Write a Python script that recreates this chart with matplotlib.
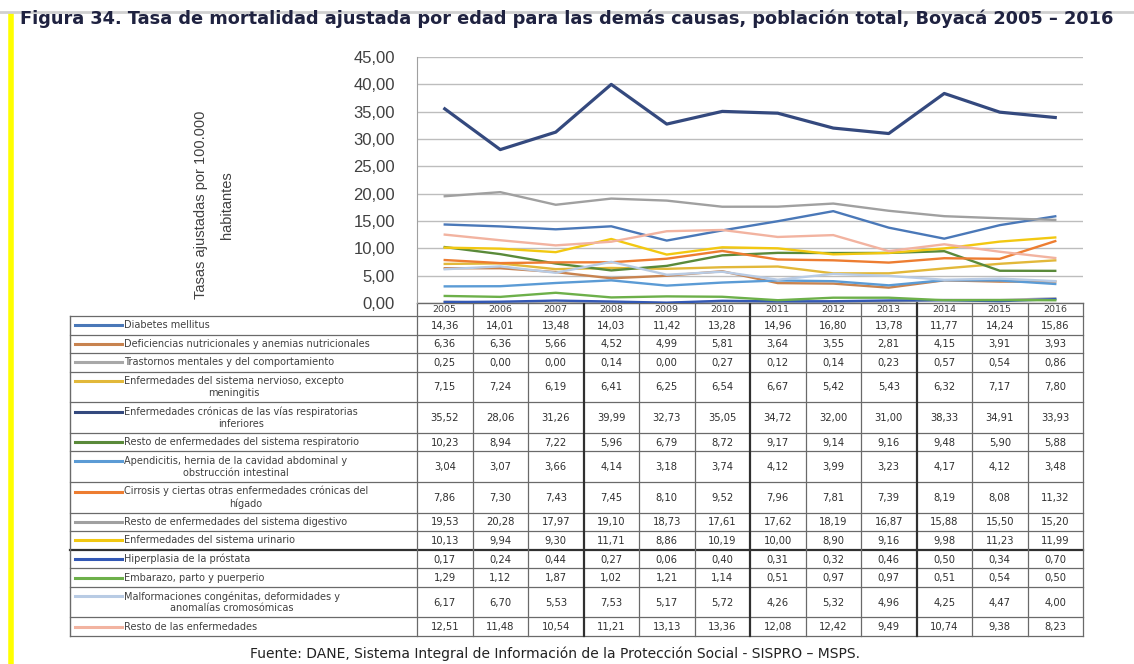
import matplotlib
matplotlib.use("Agg")
import matplotlib.pyplot as plt
from matplotlib.lines import Line2D
import numpy as np

# ---------------- data ----------------
years = [2005, 2006, 2007, 2008, 2009, 2010, 2011, 2012, 2013, 2014, 2015, 2016]

labels = [
    "Diabetes mellitus",
    "Deficiencias nutricionales y anemias nutricionales",
    "Trastornos mentales y del comportamiento",
    "Enfermedades del sistema nervioso, excepto\nmeningitis",
    "Enfermedades crónicas de las vías respiratorias\ninferiores",
    "Resto de enfermedades del sistema respiratorio",
    "Apendicitis, hernia de la cavidad abdominal y\nobstrucción intestinal",
    "Cirrosis y ciertas otras enfermedades crónicas del\nhígado",
    "Resto de enfermedades del sistema digestivo",
    "Enfermedades del sistema urinario",
    "Hiperplasia de la próstata",
    "Embarazo, parto y puerperio",
    "Malformaciones congénitas, deformidades y\nanomalías cromosómicas",
    "Resto de las enfermedades",
]

diabetes = [14.36, 14.01, 13.48, 14.03, 11.42, 13.28, 14.96, 16.80, 13.78, 11.77, 14.24, 15.86]
deficiencias = [6.36, 6.36, 5.66, 4.52, 4.99, 5.81, 3.64, 3.55, 2.81, 4.15, 3.91, 3.93]
trastornos = [0.25, 0.00, 0.00, 0.14, 0.00, 0.27, 0.12, 0.14, 0.23, 0.57, 0.54, 0.86]
nervioso = [7.15, 7.24, 6.19, 6.41, 6.25, 6.54, 6.67, 5.42, 5.43, 6.32, 7.17, 7.80]
vias_resp = [35.52, 28.06, 31.26, 39.99, 32.73, 35.05, 34.72, 32.00, 31.00, 38.33, 34.91, 33.93]
resto_resp = [10.23, 8.94, 7.22, 5.96, 6.79, 8.72, 9.17, 9.14, 9.16, 9.48, 5.90, 5.88]
apendicitis = [3.04, 3.07, 3.66, 4.14, 3.18, 3.74, 4.12, 3.99, 3.23, 4.17, 4.12, 3.48]
cirrosis = [7.86, 7.30, 7.43, 7.45, 8.10, 9.52, 7.96, 7.81, 7.39, 8.19, 8.08, 11.32]
resto_digestivo = [19.53, 20.28, 17.97, 19.10, 18.73, 17.61, 17.62, 18.19, 16.87, 15.88, 15.50, 15.20]
urinario = [10.13, 9.94, 9.30, 11.71, 8.86, 10.19, 10.00, 8.90, 9.16, 9.98, 11.23, 11.99]
hiperplasia = [0.17, 0.24, 0.44, 0.27, 0.06, 0.40, 0.31, 0.32, 0.46, 0.50, 0.34, 0.70]
embarazo = [1.29, 1.12, 1.87, 1.02, 1.21, 1.14, 0.51, 0.97, 0.97, 0.51, 0.54, 0.50]
malformaciones = [6.17, 6.70, 5.53, 7.53, 5.17, 5.72, 4.26, 5.32, 4.96, 4.25, 4.47, 4.00]
resto_enf = [12.51, 11.48, 10.54, 11.21, 13.13, 13.36, 12.08, 12.42, 9.49, 10.74, 9.38, 8.23]

series = [diabetes, deficiencias, trastornos, nervioso, vias_resp, resto_resp, apendicitis,
          cirrosis, resto_digestivo, urinario, hiperplasia, embarazo, malformaciones, resto_enf]

colors = ["#4A78B8", "#C8834F", "#A8A8A8", "#E2B83A", "#34497E", "#5A8A3A", "#5B9BD5",
          "#ED7D31", "#A0A0A0", "#F2C811", "#3358B5", "#6DB04A", "#B8CBE4", "#F2B3A0"]

title = "Figura 34. Tasa de mortalidad ajustada por edad para las demás causas, población total, Boyacá 2005 – 2016"
source = "Fuente: DANE, Sistema Integral de Información de la Protección Social - SISPRO – MSPS."
ylabel = "Tasas ajustadas por 100.000\nhabitantes"

# ---------------- layout ----------------
W, H = 1134, 664
fig = plt.figure(figsize=(W / 100, H / 100), dpi=100)
fig.patch.set_facecolor("white")

PL, PR, PT, PB = 417, 1083, 57, 303


def fx(x):
    return x / W


def fy(y):
    return 1 - y / H


# overlay axes in pixel coordinates for decorations/table
ov = fig.add_axes([0, 0, 1, 1], zorder=0)
ov.set_xlim(0, W)
ov.set_ylim(H, 0)
ov.axis("off")

# yellow left bar and top gray line
ov.add_line(Line2D([11, 11], [13, H], color="#FFFF00", lw=4, solid_capstyle="butt"))
ov.add_line(Line2D([0, W], [12, 12], color="#D0D0D0", lw=2))

fig.text(fx(20), fy(19), title, fontsize=12.75, fontweight="bold", color="#1F2240",
         ha="left", va="center", family="DejaVu Sans")

# ---------------- line chart ----------------
ax = fig.add_axes([fx(PL), fy(PB), (PR - PL) / W, (PB - PT) / H], zorder=2)
ax.patch.set_alpha(0)
x = np.arange(len(years))
for i in range(len(series)):
    lw = 2.3 if i == 4 else 1.7
    ax.plot(x, series[i], color=colors[i], lw=lw, solid_joinstyle="round", zorder=3 + (i == 4))
ax.set_xlim(-0.5, len(years) - 0.5)
ax.set_ylim(0, 45)
ax.set_yticks(np.arange(0, 46, 5))
ax.set_yticklabels([f"{v:.2f}".replace(".", ",") for v in np.arange(0, 46, 5)],
                   fontsize=12, color="#404040", family="Liberation Sans")
ax.tick_params(axis="y", length=0, pad=16)
ax.set_xticks([])
ax.grid(axis="y", color="#BDBDBD", lw=1)
ax.set_axisbelow(True)
for s in ["top", "right", "bottom"]:
    ax.spines[s].set_visible(False)
ax.spines["left"].set_color("#A0A0A0")

fig.text(fx(214), fy(205), ylabel, rotation=90, fontsize=10.5, color="#404040",
         ha="center", va="center", family="Liberation Sans", linespacing=2.0)

# ---------------- data table ----------------
col_w = (PR - PL) / len(years)
LBL_L = 70
row_units = [1.65 if "\n" in l else 1.0 for l in labels]
TOP_T, BOT_T = 316, 636
unit = (BOT_T - TOP_T) / sum(row_units)
edges = [TOP_T]
for u in row_units:
    edges.append(edges[-1] + u * unit)
HDR_T = 303

line_c = "#6A6A6A"
for j, yr in enumerate(years):
    cx = PL + (j + 0.5) * col_w
    ov.text(cx, (HDR_T + TOP_T) / 2 + 0.5, str(yr), fontsize=6.8, color="#404040",
            ha="center", va="center")
ov.add_line(Line2D([PL, PR], [HDR_T, HDR_T], color=line_c, lw=1.0))

for k, e in enumerate(edges):
    thick = k == 10
    ov.add_line(Line2D([LBL_L, PR], [e, e], color="#303030" if thick else line_c,
                       lw=1.6 if thick else 0.9))
ov.add_line(Line2D([LBL_L, LBL_L], [TOP_T, BOT_T], color=line_c, lw=1.0))
for j in range(len(years) + 1):
    xx = PL + j * col_w
    thick = j in (3, 6, 9)
    ov.add_line(Line2D([xx, xx], [HDR_T, BOT_T], color="#303030" if thick else line_c,
                       lw=1.6 if thick else 0.9))

for i, (lab, vals) in enumerate(zip(labels, series)):
    cy = (edges[i] + edges[i + 1]) / 2
    key_y = edges[i] + 9.5 if "\n" in lab else cy
    ov.add_line(Line2D([75, 122], [key_y, key_y], color=colors[i], lw=2.2))
    ov.text(124, cy, lab, fontsize=7.0, color="#404040", ha="left", va="center",
            multialignment="center", linespacing=1.2)
    for j, v in enumerate(vals):
        cx = PL + (j + 0.5) * col_w
        ov.text(cx, cy + 0.5, f"{v:.2f}".replace(".", ","), fontsize=7.2, color="#303030",
                ha="center", va="center")

fig.text(fx(555), fy(654), source, fontsize=10, color="#222222", ha="center", va="center",
         family="DejaVu Sans")

fig.savefig("out.png", dpi=100, facecolor="white")
